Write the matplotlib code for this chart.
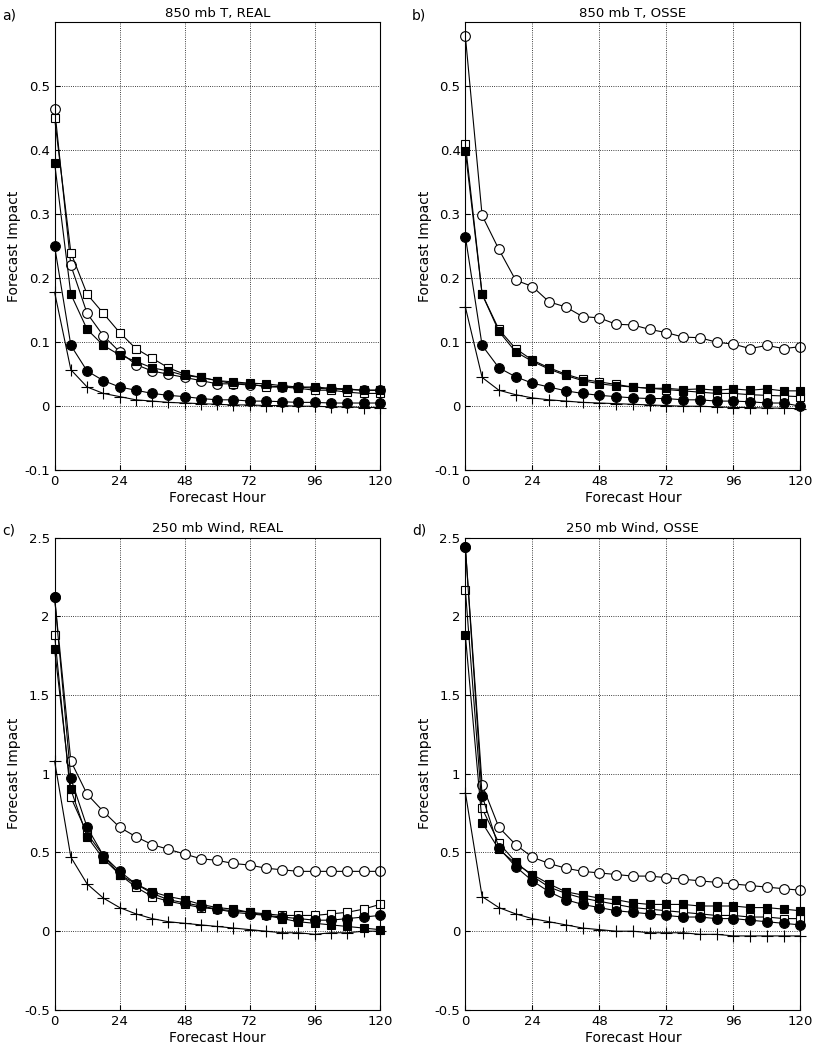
import matplotlib
matplotlib.use("Agg")
import matplotlib.pyplot as plt
import numpy as np

hours = list(range(0, 121, 6))
titles = ["850 mb T, REAL", "850 mb T, OSSE", "250 mb Wind, REAL", "250 mb Wind, OSSE"]
labels = ["a)", "b)", "c)", "d)"]

a_oc = [0.465,0.22,0.145,0.11,0.085,0.065,0.055,0.05,0.045,0.04,0.035,0.035,0.033,0.032,0.03,0.03,0.028,0.027,0.026,0.025,0.025]
a_os = [0.45,0.24,0.175,0.145,0.115,0.09,0.075,0.06,0.05,0.045,0.04,0.035,0.035,0.03,0.03,0.028,0.025,0.025,0.022,0.02,0.02]
a_fs = [0.38,0.175,0.12,0.095,0.08,0.07,0.06,0.055,0.048,0.045,0.04,0.038,0.036,0.035,0.032,0.03,0.03,0.028,0.027,0.025,0.025]
a_fc = [0.25,0.095,0.055,0.04,0.03,0.025,0.02,0.017,0.015,0.012,0.01,0.01,0.008,0.008,0.007,0.006,0.006,0.005,0.005,0.005,0.005]
a_pl = [0.178,0.057,0.03,0.02,0.015,0.01,0.008,0.006,0.005,0.004,0.003,0.002,0.002,0.001,0.001,0,0,-0.001,-0.001,-0.002,-0.002]

b_oc = [0.578,0.298,0.245,0.197,0.187,0.163,0.155,0.14,0.138,0.128,0.127,0.12,0.115,0.108,0.107,0.1,0.097,0.09,0.095,0.09,0.093]
b_os = [0.41,0.175,0.12,0.09,0.072,0.06,0.05,0.042,0.038,0.034,0.03,0.028,0.026,0.024,0.022,0.02,0.02,0.018,0.017,0.016,0.015]
b_fs = [0.398,0.175,0.117,0.085,0.07,0.058,0.048,0.04,0.035,0.032,0.03,0.028,0.028,0.026,0.027,0.025,0.027,0.025,0.027,0.024,0.024]
b_fc = [0.265,0.095,0.06,0.046,0.036,0.03,0.024,0.02,0.017,0.015,0.013,0.012,0.012,0.01,0.01,0.008,0.008,0.007,0.005,0.005,0.0]
b_pl = [0.155,0.045,0.025,0.018,0.013,0.01,0.008,0.006,0.005,0.004,0.003,0.002,0.001,0,0,-0.001,-0.002,-0.002,-0.003,-0.003,-0.004]

c_oc = [2.12,1.08,0.87,0.76,0.66,0.6,0.55,0.52,0.49,0.46,0.45,0.43,0.42,0.4,0.39,0.38,0.38,0.38,0.38,0.38,0.38]
c_os = [1.88,0.85,0.62,0.48,0.36,0.28,0.22,0.19,0.17,0.15,0.14,0.13,0.12,0.11,0.1,0.1,0.1,0.11,0.12,0.14,0.17]
c_fs = [1.79,0.9,0.6,0.46,0.36,0.3,0.25,0.22,0.2,0.17,0.15,0.14,0.12,0.1,0.08,0.06,0.05,0.04,0.03,0.02,0.01]
c_fc = [2.12,0.97,0.66,0.48,0.38,0.3,0.24,0.2,0.18,0.16,0.14,0.12,0.11,0.1,0.09,0.08,0.07,0.07,0.08,0.09,0.1]
c_pl = [1.08,0.47,0.3,0.21,0.15,0.11,0.08,0.06,0.05,0.04,0.03,0.02,0.01,0.0,-0.01,-0.01,-0.02,-0.01,-0.01,0.0,0.0]

d_oc = [2.44,0.93,0.66,0.55,0.47,0.43,0.4,0.38,0.37,0.36,0.35,0.35,0.34,0.33,0.32,0.31,0.3,0.29,0.28,0.27,0.26]
d_os = [2.17,0.78,0.56,0.44,0.35,0.28,0.24,0.21,0.19,0.17,0.15,0.14,0.13,0.12,0.11,0.1,0.1,0.09,0.09,0.08,0.08]
d_fs = [1.88,0.69,0.52,0.43,0.36,0.3,0.25,0.23,0.21,0.2,0.18,0.17,0.17,0.17,0.16,0.16,0.16,0.15,0.15,0.14,0.13]
d_fc = [2.44,0.86,0.53,0.41,0.32,0.25,0.2,0.17,0.15,0.13,0.12,0.11,0.1,0.09,0.09,0.08,0.08,0.07,0.06,0.05,0.04]
d_pl = [0.88,0.22,0.15,0.11,0.08,0.06,0.04,0.02,0.01,0.0,0.0,-0.01,-0.01,-0.01,-0.02,-0.02,-0.03,-0.03,-0.03,-0.03,-0.03]

panels = [(a_oc,a_os,a_fs,a_fc,a_pl),(b_oc,b_os,b_fs,b_fc,b_pl),(c_oc,c_os,c_fs,c_fc,c_pl),(d_oc,d_os,d_fs,d_fc,d_pl)]
styles = [dict(marker='o', mfc='white', ms=7),
          dict(marker='s', mfc='white', ms=6),
          dict(marker='s', mfc='black', ms=6),
          dict(marker='o', mfc='black', ms=7),
          dict(marker='+', mfc='black', ms=8)]

fig = plt.figure(figsize=(8.15, 10.52), dpi=100)
rects = [(0.067,0.553,0.399,0.426),(0.571,0.553,0.411,0.426),
         (0.067,0.040,0.399,0.449),(0.571,0.040,0.411,0.449)]
for i, (r, data) in enumerate(zip(rects, panels)):
    ax = fig.add_axes(r)
    for s, st in zip(data, styles):
        ax.plot(hours, s, color='black', lw=0.8, mec='black', mew=0.8, clip_on=False, **st)
    ax.set_xlim(0, 120)
    ax.set_xticks([0,24,48,72,96,120])
    if i < 2:
        ax.set_ylim(-0.1, 0.6)
        ax.set_yticks([-0.1,0,0.1,0.2,0.3,0.4,0.5])
        ax.set_yticklabels(['-0.1','0','0.1','0.2','0.3','0.4','0.5'])
    else:
        ax.set_ylim(-0.5, 2.5)
        ax.set_yticks([-0.5,0,0.5,1,1.5,2,2.5])
        ax.set_yticklabels(['-0.5','0','0.5','1','1.5','2','2.5'])
    ax.grid(True, linestyle=':', color='black', lw=0.6)
    ax.tick_params(direction='in', labelsize=9.5)
    ax.set_title(titles[i], fontsize=9.5, pad=4)
    ax.set_xlabel('Forecast Hour', fontsize=10, labelpad=2)
    ax.set_ylabel('Forecast Impact', fontsize=10, labelpad=2)
    ax.text(-0.16, 1.0, labels[i], transform=ax.transAxes, fontsize=10, va='bottom')
fig.savefig('out.png', dpi=100)
